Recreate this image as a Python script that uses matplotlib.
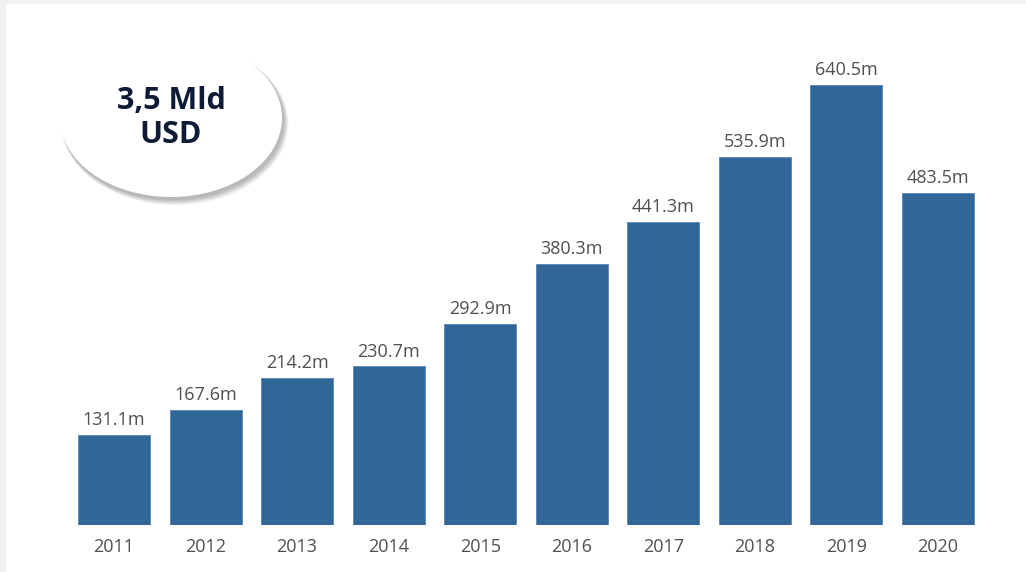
import matplotlib.pyplot as plt
from matplotlib.patches import Ellipse, Rectangle

# dati
anni = ['2011', '2012', '2013', '2014', '2015', '2016', '2017', '2018', '2019', '2020']
valori = [131.1, 167.6, 214.2, 230.7, 292.9, 380.3, 441.3, 535.9, 640.5, 483.5]
etichette = ['131.1m', '167.6m', '214.2m', '230.7m', '292.9m', '380.3m', '441.3m', '535.9m', '640.5m', '483.5m']
totale = '3,5 Mld\nUSD'

plt.rcParams['font.family'] = ['Open Sans', 'DejaVu Sans']

fig = plt.figure(figsize=(10.26, 5.72), dpi=100)
fig.patch.set_facecolor('#f1f1f1')

# sfondo bianco con bordo grigio
bg = fig.add_axes([0, 0, 1, 1], zorder=0)
bg.set_xlim(0, 1026)
bg.set_ylim(572, 0)
bg.axis('off')
bg.add_patch(Rectangle((6, 4), 1020, 568, facecolor='white', edgecolor='none'))

# grafico a barre
ax = fig.add_axes([0, 47 / 572, 1, 1 - 47 / 572], zorder=1)
ax.patch.set_alpha(0)
x = list(range(len(anni)))
barre = ax.bar(x, valori, width=0.786, color='#316699', edgecolor='#5a86b4', linewidth=0.6)
ax.set_xlim(-1.245, 9.961)
ax.set_ylim(0, 764)
ax.set_xticks(x)
ax.set_xticklabels(anni, fontsize=13, color='#505050')
ax.tick_params(axis='x', length=0, pad=9)
ax.set_yticks([])
for s in ax.spines.values():
    s.set_visible(False)

for b, t in zip(barre, etichette):
    ax.annotate(t, (b.get_x() + b.get_width() / 2, b.get_height()),
                xytext=(0, 4), textcoords='offset points',
                ha='center', va='bottom', fontsize=13, color='#505050')

# ellisse con ombra
ov = fig.add_axes([0, 0, 1, 1], zorder=2)
ov.set_xlim(0, 1026)
ov.set_ylim(572, 0)
ov.axis('off')
for i in range(6, 0, -1):
    ov.add_patch(Ellipse((172 + i * 0.5, 120 + i * 0.6), 222 + i * 0.8, 158 + i * 0.8,
                         facecolor='#000000', alpha=0.05, edgecolor='none'))
ov.add_patch(Ellipse((171, 118), 222, 158, facecolor='white', edgecolor='none'))
ov.text(171, 118, totale, ha='center', va='center', fontsize=22, fontweight='bold',
        color='#0e1a36', linespacing=1.15)

fig.savefig('out.png', dpi=100, facecolor=fig.get_facecolor())
